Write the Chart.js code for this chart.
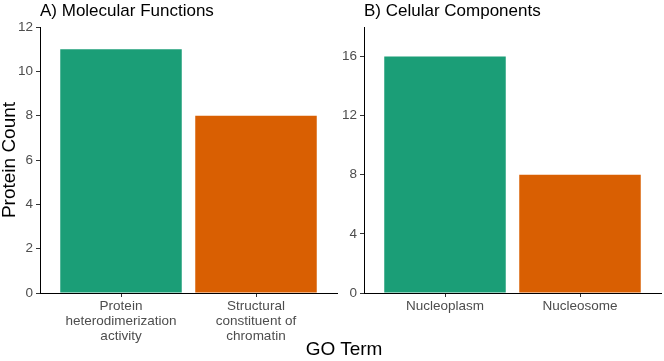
<!DOCTYPE html>
<html>
<head>
<meta charset="utf-8">
<script src="https://cdn.jsdelivr.net/npm/chart.js@4.4.0/dist/chart.umd.min.js"></script>
<style>
  body { margin: 0; background: #fff; }
  #wrap { position: relative; width: 664px; height: 361px; background: #fff; font-family: "Liberation Sans", Arial, sans-serif; }
  #left { position: absolute; left: 0; top: 0; }
  #right { position: absolute; left: 340px; top: 0; }
  #xtitle { position: absolute; left: 244px; width: 200px; top: 339px; text-align: center; font-size: 19px; line-height: 1; color: #000; }
</style>
</head>
<body>
<div id="wrap">
  <canvas id="left" width="340" height="361"></canvas>
  <canvas id="right" width="324" height="361"></canvas>
  <div id="xtitle">GO Term</div>
</div>
<script>
// data
const mfLabels = [["Protein", "heterodimerization", "activity"], ["Structural", "constituent of", "chromatin"]];
const mfCounts = [11, 8];
const mfTicks = [0, 2, 4, 6, 8, 10, 12];

const ccLabels = ["Nucleoplasm", "Nucleosome"];
const ccCounts = [16, 8];
const ccTicks = [0, 4, 8, 12, 16];

const barColors = ["#1B9E77", "#D95F02"];
const tickFont = { family: "Liberation Sans", size: 13.5, lineHeight: 1.1 };

// panel title drawn at the left edge of the plot area
const panelTitle = {
  id: "panelTitle",
  afterDraw(chart, args, opts) {
    const ctx = chart.ctx;
    ctx.save();
    ctx.font = "17px 'Liberation Sans'";
    ctx.fillStyle = "#000";
    ctx.textBaseline = "alphabetic";
    ctx.textAlign = "left";
    ctx.fillText(opts.text, chart.chartArea.left, 16);
    ctx.restore();
  }
};

function makeChart(id, title, labels, counts, ticks, yMax, yWidth, yTitle) {
  const points = counts.map((c, i) => ({ x: i + 1, y: c }));
  return new Chart(document.getElementById(id), {
    type: "bar",
    data: {
      datasets: [{
        data: points,
        backgroundColor: barColors,
        borderWidth: 0,
        barPercentage: 0.9,
        categoryPercentage: 1.0
      }]
    },
    options: {
      responsive: false,
      animation: false,
      layout: { padding: { top: 27, right: 3, left: 0, bottom: 0 } },
      plugins: {
        legend: { display: false },
        tooltip: { enabled: false },
        panelTitle: { text: title }
      },
      scales: {
        x: {
          type: "linear",
          offset: false,
          min: 0.4,
          max: 2.6,
          afterBuildTicks: (s) => { s.ticks = labels.map((l, i) => ({ value: i + 1 })); },
          afterFit: (s) => { s.height = 68; },
          ticks: {
            color: "#4d4d4d",
            font: tickFont,
            padding: 2,
            maxRotation: 0,
            autoSkip: false,
            callback: (v) => labels[Math.round(v) - 1]
          },
          grid: { display: true, offset: false, drawOnChartArea: false, drawTicks: true, tickLength: 4, color: "#333" },
          border: { display: true, color: "#000", width: 1 }
        },
        y: {
          min: 0,
          max: yMax,
          afterBuildTicks: (s) => { s.ticks = ticks.map((t) => ({ value: t })); },
          afterFit: (s) => { s.width = yWidth; },
          ticks: { color: "#4d4d4d", font: tickFont, padding: 3 },
          grid: { display: true, drawOnChartArea: false, drawTicks: true, tickLength: 4, color: "#333" },
          border: { display: true, color: "#000", width: 1 },
          title: {
            display: !!yTitle,
            text: yTitle || "",
            color: "#000",
            font: { family: "Liberation Sans", size: 19, lineHeight: 1 },
            padding: 0
          }
        }
      }
    },
    plugins: [panelTitle]
  });
}

makeChart("left", "A) Molecular Functions", mfLabels, mfCounts, mfTicks, 12, 40, "Protein Count");
makeChart("right", "B) Celular Components", ccLabels, ccCounts, ccTicks, 18, 24, null);
</script>
</body>
</html>
